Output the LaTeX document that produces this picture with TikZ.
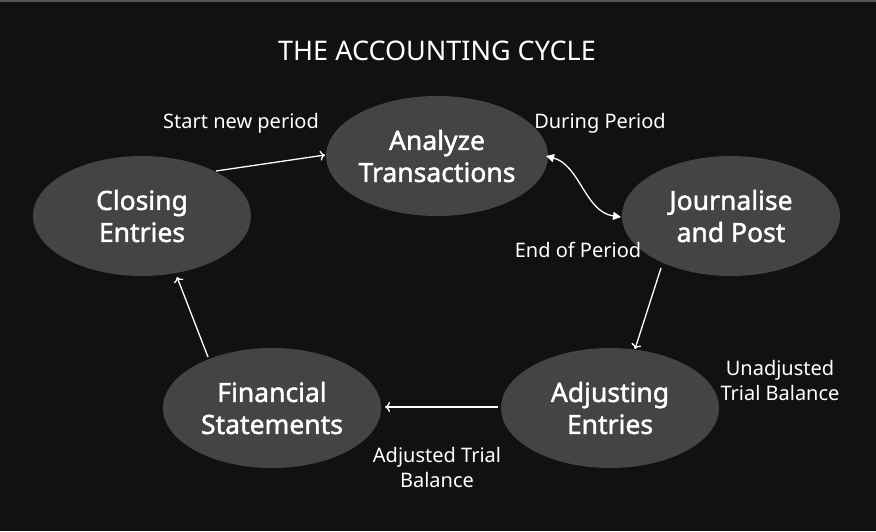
\documentclass[tikz,border=0pt]{standalone}
\usepackage{fontspec}
\setmainfont{Noto Sans}
\newfontfamily\semib{Noto Sans}[FakeBold=1.6]
\usetikzlibrary{arrows.meta,shapes.geometric}
\definecolor{bg}{HTML}{111111}
\definecolor{ell}{HTML}{444444}
\definecolor{topline}{HTML}{555555}
\begin{document}
\begin{tikzpicture}[x=1pt,y=-1pt,
  stage/.style={ellipse,fill=ell,minimum width=218pt,minimum height=120pt,inner sep=0pt,
    text=white,font=\semib\fontsize{26.5}{32}\selectfont,align=center},
  lbl/.style={text=white,font=\fontsize{20}{25}\selectfont,align=center},
  conn/.style={draw=white,line width=1.3pt,-{To[length=5pt,width=10pt]}},
  dconn/.style={draw=white,line width=1.3pt,{Triangle[length=8pt,width=8pt]}-{Triangle[length=8pt,width=8pt]}}
]
\fill[bg] (0,0) rectangle (876,531);
\useasboundingbox (0,0) rectangle (876,531);
\fill[topline] (0,0) rectangle (876,1.5);
\node[text=white,font=\fontsize{27}{30}\selectfont] (title) at (437,51) {THE ACCOUNTING CYCLE};
\node[stage] (an) at (437,156) {Analyze\\Transactions};
\node[stage] (jp) at (731,216) {Journalise\\and Post};
\node[stage] (ad) at (610,408) {Adjusting\\Entries};
\node[stage] (fs) at (272,408) {Financial\\Statements};
\node[stage] (ce) at (142,216) {Closing\\Entries};
\node[lbl] (l1) at (241,123) {Start new period};
\node[lbl] (l2) at (600,123) {During Period};
\node[lbl] (l3) at (578,250) {End of Period};
\node[lbl] (l4) at (780,380) {Unadjusted\\Trial Balance};
\node[lbl] (l5) at (437,467) {Adjusted Trial\\Balance};
\coordinate (c1s) at (216,171); \coordinate (c1e) at (325,155);
\coordinate (c2s) at (546,156); \coordinate (c2e) at (621,217);
\coordinate (c3s) at (661,268); \coordinate (c3e) at (635,349);
\coordinate (c4s) at (498,407); \coordinate (c4e) at (385,407);
\coordinate (c5s) at (208,357); \coordinate (c5e) at (177,277);
\draw[conn] (c1s) -- (c1e);
\draw[dconn] (c2s) .. controls (580,165) and (585,212) .. (c2e);
\draw[conn] (c3s) -- (c3e);
\draw[conn] (c4s) -- (c4e);
\draw[conn] (c5s) -- (c5e);
\end{tikzpicture}
\end{document}
